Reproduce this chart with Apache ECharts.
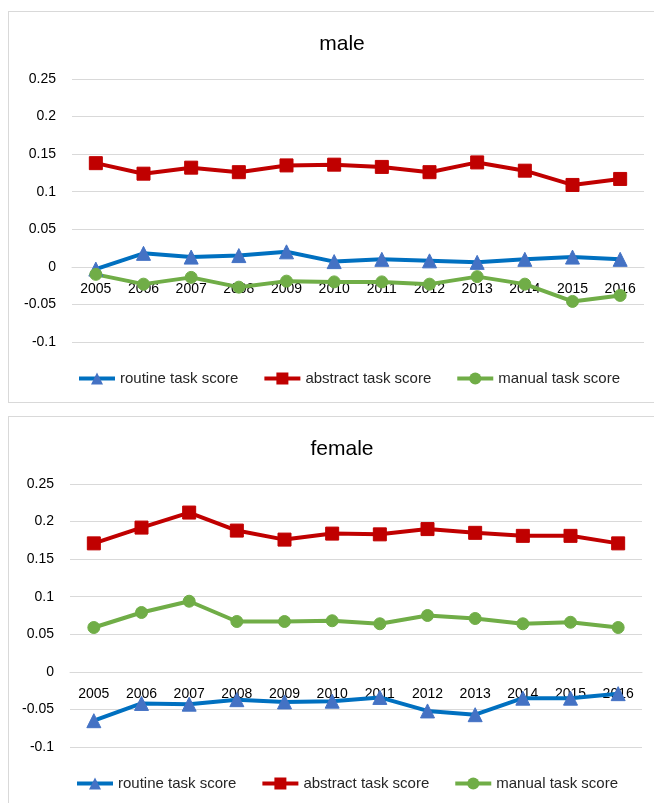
<!DOCTYPE html>
<html>

<head>
    <meta charset="utf-8">
    <title>task scores by gender</title>
    <script src="https://cdn.jsdelivr.net/npm/echarts@6/dist/echarts.min.js"></script>
    <style>
        body { margin: 0; background: #fff; overflow: hidden; }
        .panel { position: absolute; left: 8px; width: 660px; border: 1px solid #d9d9d9; background: #fff; }
    </style>
</head>

<body>
    <div id="male" class="panel" style="top: 11px; height: 390px;"></div>
    <div id="female" class="panel" style="top: 416px; height: 400px;"></div>
    <script type="text/javascript">
        var years = ['2005', '2006', '2007', '2008', '2009', '2010', '2011', '2012', '2013', '2014', '2015', '2016'];
        var seriesNames = ['routine task score', 'abstract task score', 'manual task score'];

        // male
        var maleRoutine = [-0.003, 0.018, 0.013, 0.015, 0.020, 0.007, 0.010, 0.008, 0.006, 0.010, 0.013, 0.010];
        var maleAbstract = [0.138, 0.124, 0.132, 0.126, 0.135, 0.136, 0.133, 0.126, 0.139, 0.128, 0.109, 0.117];
        var maleManual = [-0.010, -0.023, -0.014, -0.027, -0.019, -0.020, -0.020, -0.023, -0.013, -0.023, -0.046, -0.038];

        // female
        var femaleRoutine = [-0.065, -0.042, -0.043, -0.037, -0.040, -0.039, -0.034, -0.052, -0.057, -0.035, -0.035, -0.029];
        var femaleAbstract = [0.171, 0.192, 0.212, 0.188, 0.176, 0.184, 0.183, 0.190, 0.185, 0.181, 0.181, 0.171];
        var femaleManual = [0.059, 0.079, 0.094, 0.067, 0.067, 0.068, 0.064, 0.075, 0.071, 0.064, 0.066, 0.059];

        var yMin = -0.1;
        var yMax = 0.25;

        var colors = {
            routine: '#0070C0',
            routineMark: '#4472C4',
            abstract: '#C00000',
            manual: '#70AD47'
        };
        var font = 'Liberation Sans';
        var gridHeight = 263;

        function makeSeries(name, data, lineColor, markColor, symbol, size) {
            return {
                name: name,
                type: 'line',
                data: data,
                symbol: symbol,
                symbolSize: size,
                showAllSymbol: true,
                lineStyle: { color: lineColor, width: 4 },
                itemStyle: { color: markColor, borderColor: markColor },
                emphasis: { disabled: true }
            };
        }

        function buildOption(title, gridLeft, routine, abstract, manual) {
            // the category axis sits on the zero line, like the excel original
            var zeroOffset = -gridHeight * (0 - yMin) / (yMax - yMin);
            return {
                animation: false,
                textStyle: { fontFamily: font },
                title: {
                    text: title,
                    left: 328,
                    top: 17,
                    textAlign: 'center',
                    textStyle: { fontSize: 21, fontWeight: 'normal', color: '#000', fontFamily: font }
                },
                legend: {
                    left: gridLeft,
                    top: 354,
                    itemWidth: 36,
                    itemHeight: 15,
                    itemGap: 24,
                    lineStyle: { width: 4 },
                    textStyle: { fontSize: 15, color: '#262626', fontFamily: font },
                    data: seriesNames
                },
                grid: {
                    left: gridLeft,
                    top: 67,
                    width: 572,
                    height: gridHeight
                },
                xAxis: {
                    type: 'category',
                    data: years,
                    boundaryGap: true,
                    offset: zeroOffset,
                    axisLine: { onZero: false, lineStyle: { color: '#d9d9d9', width: 1 } },
                    axisTick: { show: false },
                    axisLabel: { margin: 15, fontSize: 14, color: '#000', fontFamily: font, interval: 0 }
                },
                yAxis: {
                    type: 'value',
                    min: yMin,
                    max: yMax,
                    interval: 0.05,
                    axisLine: { show: false },
                    axisTick: { show: false },
                    splitLine: { lineStyle: { color: '#d9d9d9', width: 1 } },
                    axisLabel: {
                        margin: 16,
                        fontSize: 14,
                        color: '#000',
                        fontFamily: font,
                        formatter: function (v) { return String(parseFloat(v.toFixed(2))); }
                    }
                },
                series: [
                    makeSeries(seriesNames[0], routine, colors.routine, colors.routineMark, 'triangle', 14),
                    makeSeries(seriesNames[1], abstract, colors.abstract, colors.abstract, 'rect', 13),
                    makeSeries(seriesNames[2], manual, colors.manual, colors.manual, 'circle', 12)
                ]
            };
        }

        var maleChart = echarts.init(document.getElementById('male'));
        maleChart.setOption(buildOption('male', 63, maleRoutine, maleAbstract, maleManual));

        var femaleChart = echarts.init(document.getElementById('female'));
        femaleChart.setOption(buildOption('female', 61, femaleRoutine, femaleAbstract, femaleManual));
    </script>
</body>

</html>
